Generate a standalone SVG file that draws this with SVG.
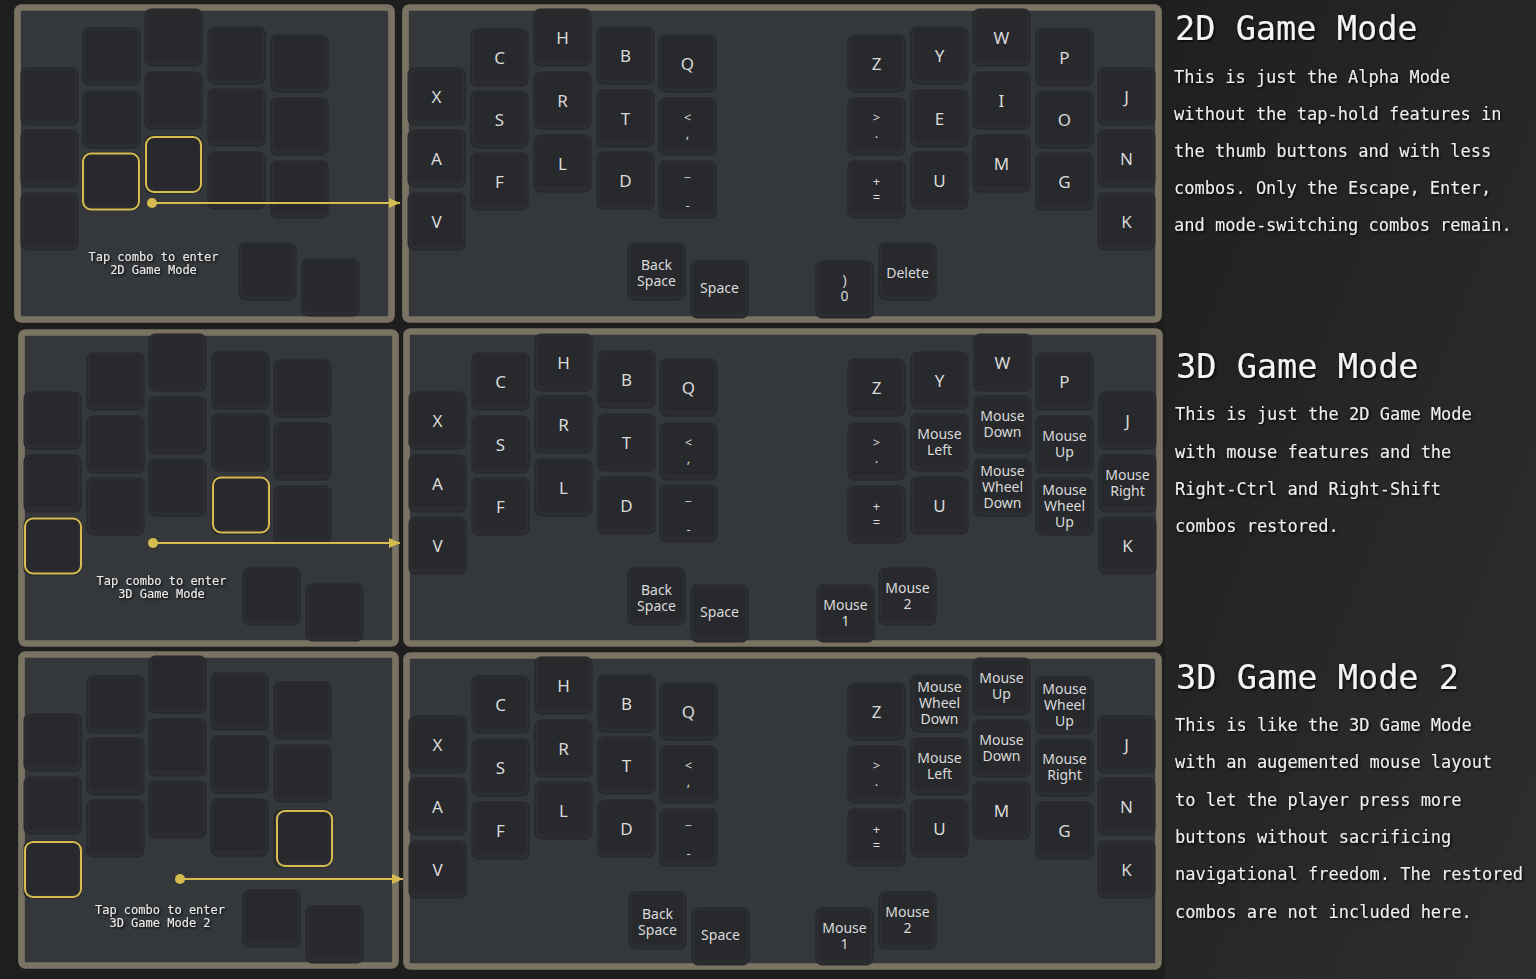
<svg xmlns="http://www.w3.org/2000/svg" xmlns:xlink="http://www.w3.org/1999/xlink" width="1536" height="979" viewBox="0 0 1536 979">
<style>
.panel{fill:#35383b;stroke:#7a7363;stroke-width:6.7}
.ko{fill:#2b2d30;stroke:#242629;stroke-width:1}
.ki{fill:#27292c}
.hl{fill:none;stroke:#d6bc50;stroke-width:2}
.kl{font-family:"Noto Sans","Open Sans",sans-serif;fill:#dadada;text-anchor:middle}
.L{font-size:17px}
.W{font-size:14px}
.S{font-size:13px}
.tap{font-family:"DejaVu Sans Mono","Liberation Mono",monospace;font-size:12px;fill:#ececec;text-anchor:middle;filter:url(#sh)}
.h{font-family:"DejaVu Sans Mono","Liberation Mono",monospace;font-size:33.6px;fill:#f4f4f4;filter:url(#sh)}
.b{font-family:"DejaVu Sans Mono","Liberation Mono",monospace;font-size:17px;fill:#efefef;filter:url(#sh)}
.con{stroke:#d6bc50;stroke-width:2;fill:none}
</style>
<defs>
<linearGradient id="bgR" x1="0" y1="0" x2="1" y2="1">
<stop offset="0" stop-color="#1f1f1f"/>
<stop offset="1" stop-color="#2e2e2e"/>
</linearGradient>
<filter id="sh" x="-10%" y="-30%" width="120%" height="160%">
<feDropShadow dx="1.5" dy="1.5" stdDeviation="1.2" flood-color="#000" flood-opacity="0.85"/>
</filter>
<g id="key"><rect class="ko" x="0" y="0" width="57" height="57" rx="6"/><rect class="ki" x="3" y="2" width="51" height="50" rx="4"/></g>
<marker id="arr" markerUnits="userSpaceOnUse" markerWidth="12" markerHeight="12" refX="11" refY="5" orient="auto">
<path d="M0,0 L11,5 L0,10 z" fill="#d6bc50"/>
</marker>
</defs>

<rect x="0" y="0" width="1536" height="979" fill="#1e1e1e"/>
<rect x="1165" y="0" width="371" height="979" fill="url(#bgR)"/>

<!-- ROW 1 small panel -->
<g id="combo-2d">
<rect class="panel" x="17.5" y="7.5" width="374" height="312" rx="4"/>
<use href="#key" x="21" y="68"/><use href="#key" x="21" y="130"/><use href="#key" x="21" y="193"/>
<use href="#key" x="83" y="28"/><use href="#key" x="83" y="91"/><use href="#key" x="83" y="153"/>
<use href="#key" x="145" y="9"/><use href="#key" x="145" y="72"/><use href="#key" x="145" y="136"/>
<use href="#key" x="208" y="27"/><use href="#key" x="208" y="89"/><use href="#key" x="208" y="152"/>
<use href="#key" x="271" y="35"/><use href="#key" x="271" y="98"/><use href="#key" x="271" y="161"/>
<use href="#key" x="239" y="243"/><use href="#key" x="302" y="259"/>
<rect class="hl" x="83" y="153.5" width="56" height="56" rx="8"/>
<rect class="hl" x="146" y="137" width="55" height="55" rx="8"/>
<text class="tap" x="153.5" y="261">Tap combo to enter</text>
<text class="tap" x="153.5" y="274">2D Game Mode</text>
</g>

<!-- ROW 1 main panel -->
<g id="layout-2d">
<rect class="panel" x="405.5" y="7.5" width="753" height="312" rx="4"/>
<g id="r1-X"><use href="#key" x="408" y="68"/><text class="kl L" x="436.5" y="102.5">X</text></g>
<g id="r1-A"><use href="#key" x="408" y="130"/><text class="kl L" x="436.5" y="164.5">A</text></g>
<g id="r1-V"><use href="#key" x="408" y="193"/><text class="kl L" x="436.5" y="227.5">V</text></g>
<g id="r1-C"><use href="#key" x="471" y="29"/><text class="kl L" x="499.5" y="63.5">C</text></g>
<g id="r1-S"><use href="#key" x="471" y="91"/><text class="kl L" x="499.5" y="125.5">S</text></g>
<g id="r1-F"><use href="#key" x="471" y="153"/><text class="kl L" x="499.5" y="187.5">F</text></g>
<g id="r1-H"><use href="#key" x="534" y="9"/><text class="kl L" x="562.5" y="43.5">H</text></g>
<g id="r1-R"><use href="#key" x="534" y="72"/><text class="kl L" x="562.5" y="106.5">R</text></g>
<g id="r1-L"><use href="#key" x="534" y="135"/><text class="kl L" x="562.5" y="169.5">L</text></g>
<g id="r1-B"><use href="#key" x="597" y="27"/><text class="kl L" x="625.5" y="61.5">B</text></g>
<g id="r1-T"><use href="#key" x="597" y="90"/><text class="kl L" x="625.5" y="124.5">T</text></g>
<g id="r1-D"><use href="#key" x="597" y="152"/><text class="kl L" x="625.5" y="186.5">D</text></g>
<g id="r1-Q"><use href="#key" x="659" y="35"/><text class="kl L" x="687.5" y="69.5">Q</text></g>
<g id="r1-comma"><use href="#key" x="659" y="98"/><text class="kl S" x="687.5" y="122">&lt;</text><text class="kl S" x="687.5" y="137.5">,</text></g>
<g id="r1-minus"><use href="#key" x="659" y="161"/><text class="kl S" x="687.5" y="176">_</text><text class="kl S" x="687.5" y="210">-</text></g>
<g id="r1-bs"><use href="#key" x="628" y="243"/><text class="kl W" x="656.5" y="270">Back</text><text class="kl W" x="656.5" y="286">Space</text></g>
<g id="r1-space"><use href="#key" x="691" y="261"/><text class="kl W" x="719.5" y="293">Space</text></g>
<g id="r1-Z"><use href="#key" x="848" y="35"/><text class="kl L" x="876.5" y="69.5">Z</text></g>
<g id="r1-dot"><use href="#key" x="848" y="98"/><text class="kl S" x="876.5" y="122">&gt;</text><text class="kl S" x="876.5" y="137.5">.</text></g>
<g id="r1-eq"><use href="#key" x="848" y="161"/><text class="kl S" x="876.5" y="185.5">+</text><text class="kl S" x="876.5" y="201.5">=</text></g>
<g id="r1-Y"><use href="#key" x="911" y="27"/><text class="kl L" x="939.5" y="61.5">Y</text></g>
<g id="r1-E"><use href="#key" x="911" y="90"/><text class="kl L" x="939.5" y="124.5">E</text></g>
<g id="r1-U"><use href="#key" x="911" y="152"/><text class="kl L" x="939.5" y="186.5">U</text></g>
<g id="r1-W"><use href="#key" x="973" y="9"/><text class="kl L" x="1001.5" y="43.5">W</text></g>
<g id="r1-I"><use href="#key" x="973" y="72"/><text class="kl L" x="1001.5" y="106.5">I</text></g>
<g id="r1-M"><use href="#key" x="973" y="135"/><text class="kl L" x="1001.5" y="169.5">M</text></g>
<g id="r1-P"><use href="#key" x="1036" y="29"/><text class="kl L" x="1064.5" y="63.5">P</text></g>
<g id="r1-O"><use href="#key" x="1036" y="91"/><text class="kl L" x="1064.5" y="125.5">O</text></g>
<g id="r1-G"><use href="#key" x="1036" y="153"/><text class="kl L" x="1064.5" y="187.5">G</text></g>
<g id="r1-J"><use href="#key" x="1098" y="68"/><text class="kl L" x="1126.5" y="102.5">J</text></g>
<g id="r1-N"><use href="#key" x="1098" y="130"/><text class="kl L" x="1126.5" y="164.5">N</text></g>
<g id="r1-K"><use href="#key" x="1098" y="193"/><text class="kl L" x="1126.5" y="227.5">K</text></g>
<g id="r1-0"><use href="#key" x="816" y="261"/><text class="kl W" x="844.5" y="284.5">)</text><text class="kl W" x="844.5" y="301">0</text></g>
<g id="r1-del"><use href="#key" x="879" y="243"/><text class="kl W" x="907.5" y="277.5">Delete</text></g>
</g>

<!-- ROW 2 small panel -->
<g id="combo-3d">
<rect class="panel" x="21.5" y="332.5" width="374" height="311" rx="4"/>
<use href="#key" x="24" y="392"/><use href="#key" x="24" y="455"/><use href="#key" x="24" y="518"/>
<use href="#key" x="87" y="353"/><use href="#key" x="87" y="416"/><use href="#key" x="87" y="478"/>
<use href="#key" x="149" y="334"/><use href="#key" x="149" y="397"/><use href="#key" x="149" y="459"/>
<use href="#key" x="212" y="352"/><use href="#key" x="212" y="414"/><use href="#key" x="212" y="477"/>
<use href="#key" x="274" y="360"/><use href="#key" x="274" y="423"/><use href="#key" x="274" y="486"/>
<use href="#key" x="243" y="568"/><use href="#key" x="306" y="584"/>
<rect class="hl" x="25" y="518.5" width="56" height="55" rx="8"/>
<rect class="hl" x="213" y="477.5" width="56" height="55" rx="8"/>
<text class="tap" x="161.5" y="585">Tap combo to enter</text>
<text class="tap" x="161.5" y="598">3D Game Mode</text>
</g>

<!-- ROW 2 main panel -->
<g id="layout-3d">
<rect class="panel" x="406.5" y="331.5" width="753" height="312" rx="4"/>
<g id="r2-X"><use href="#key" x="409" y="392"/><text class="kl L" x="437.5" y="426.5">X</text></g>
<g id="r2-A"><use href="#key" x="409" y="455"/><text class="kl L" x="437.5" y="489.5">A</text></g>
<g id="r2-V"><use href="#key" x="409" y="517"/><text class="kl L" x="437.5" y="551.5">V</text></g>
<g id="r2-C"><use href="#key" x="472" y="353"/><text class="kl L" x="500.5" y="387.5">C</text></g>
<g id="r2-S"><use href="#key" x="472" y="416"/><text class="kl L" x="500.5" y="450.5">S</text></g>
<g id="r2-F"><use href="#key" x="472" y="478"/><text class="kl L" x="500.5" y="512.5">F</text></g>
<g id="r2-H"><use href="#key" x="535" y="334"/><text class="kl L" x="563.5" y="368.5">H</text></g>
<g id="r2-R"><use href="#key" x="535" y="396"/><text class="kl L" x="563.5" y="430.5">R</text></g>
<g id="r2-L"><use href="#key" x="535" y="459"/><text class="kl L" x="563.5" y="493.5">L</text></g>
<g id="r2-B"><use href="#key" x="598" y="351"/><text class="kl L" x="626.5" y="385.5">B</text></g>
<g id="r2-T"><use href="#key" x="598" y="414"/><text class="kl L" x="626.5" y="448.5">T</text></g>
<g id="r2-D"><use href="#key" x="598" y="477"/><text class="kl L" x="626.5" y="511.5">D</text></g>
<g id="r2-Q"><use href="#key" x="660" y="359"/><text class="kl L" x="688.5" y="393.5">Q</text></g>
<g id="r2-comma"><use href="#key" x="660" y="423"/><text class="kl S" x="688.5" y="447">&lt;</text><text class="kl S" x="688.5" y="462.5">,</text></g>
<g id="r2-minus"><use href="#key" x="660" y="485"/><text class="kl S" x="688.5" y="500">_</text><text class="kl S" x="688.5" y="534">-</text></g>
<g id="r2-bs"><use href="#key" x="628" y="568"/><text class="kl W" x="656.5" y="595">Back</text><text class="kl W" x="656.5" y="611">Space</text></g>
<g id="r2-space"><use href="#key" x="691" y="585"/><text class="kl W" x="719.5" y="617">Space</text></g>
<g id="r2-Z"><use href="#key" x="848" y="359"/><text class="kl L" x="876.5" y="393.5">Z</text></g>
<g id="r2-dot"><use href="#key" x="848" y="423"/><text class="kl S" x="876.5" y="447">&gt;</text><text class="kl S" x="876.5" y="462.5">.</text></g>
<g id="r2-eq"><use href="#key" x="848" y="486"/><text class="kl S" x="876.5" y="510.5">+</text><text class="kl S" x="876.5" y="526.5">=</text></g>
<g id="r2-Y"><use href="#key" x="911" y="352"/><text class="kl L" x="939.5" y="386.5">Y</text></g>
<g id="r2-ml"><use href="#key" x="911" y="414"/><text class="kl W" x="939.5" y="439">Mouse</text><text class="kl W" x="939.5" y="455">Left</text></g>
<g id="r2-U"><use href="#key" x="911" y="477"/><text class="kl L" x="939.5" y="511.5">U</text></g>
<g id="r2-W"><use href="#key" x="974" y="334"/><text class="kl L" x="1002.5" y="368.5">W</text></g>
<g id="r2-md"><use href="#key" x="974" y="396"/><text class="kl W" x="1002.5" y="421">Mouse</text><text class="kl W" x="1002.5" y="437">Down</text></g>
<g id="r2-mwd"><use href="#key" x="974" y="459"/><text class="kl W" x="1002.5" y="476">Mouse</text><text class="kl W" x="1002.5" y="492">Wheel</text><text class="kl W" x="1002.5" y="508">Down</text></g>
<g id="r2-P"><use href="#key" x="1036" y="353"/><text class="kl L" x="1064.5" y="387.5">P</text></g>
<g id="r2-mu"><use href="#key" x="1036" y="416"/><text class="kl W" x="1064.5" y="441">Mouse</text><text class="kl W" x="1064.5" y="457">Up</text></g>
<g id="r2-mwu"><use href="#key" x="1036" y="478"/><text class="kl W" x="1064.5" y="494.5">Mouse</text><text class="kl W" x="1064.5" y="510.5">Wheel</text><text class="kl W" x="1064.5" y="526.5">Up</text></g>
<g id="r2-J"><use href="#key" x="1099" y="392"/><text class="kl L" x="1127.5" y="426.5">J</text></g>
<g id="r2-mr"><use href="#key" x="1099" y="455"/><text class="kl W" x="1127.5" y="479.5">Mouse</text><text class="kl W" x="1127.5" y="495.5">Right</text></g>
<g id="r2-K"><use href="#key" x="1099" y="517"/><text class="kl L" x="1127.5" y="551.5">K</text></g>
<g id="r2-m1"><use href="#key" x="817" y="585"/><text class="kl W" x="845.5" y="609.5">Mouse</text><text class="kl W" x="845.5" y="625.5">1</text></g>
<g id="r2-m2"><use href="#key" x="879" y="568"/><text class="kl W" x="907.5" y="592.5">Mouse</text><text class="kl W" x="907.5" y="608.5">2</text></g>
</g>

<!-- ROW 3 small panel -->
<g id="combo-3d2">
<rect class="panel" x="21.5" y="654.5" width="374" height="311" rx="4"/>
<use href="#key" x="24" y="714"/><use href="#key" x="24" y="777"/><use href="#key" x="24" y="841"/>
<use href="#key" x="87" y="676"/><use href="#key" x="87" y="738"/><use href="#key" x="87" y="800"/>
<use href="#key" x="149" y="656"/><use href="#key" x="149" y="719"/><use href="#key" x="149" y="781"/>
<use href="#key" x="211" y="673"/><use href="#key" x="211" y="736"/><use href="#key" x="211" y="799"/>
<use href="#key" x="274" y="682"/><use href="#key" x="274" y="745"/><use href="#key" x="274" y="810"/>
<use href="#key" x="243" y="890"/><use href="#key" x="306" y="906"/>
<rect class="hl" x="25" y="842" width="56" height="55" rx="8"/>
<rect class="hl" x="277" y="811" width="55" height="55" rx="8"/>
<text class="tap" x="160" y="914">Tap combo to enter</text>
<text class="tap" x="160" y="927">3D Game Mode 2</text>
</g>

<!-- ROW 3 main panel -->
<g id="layout-3d2">
<rect class="panel" x="406.5" y="655.5" width="752" height="311" rx="4"/>
<g id="r3-X"><use href="#key" x="409" y="716"/><text class="kl L" x="437.5" y="750.5">X</text></g>
<g id="r3-A"><use href="#key" x="409" y="778"/><text class="kl L" x="437.5" y="812.5">A</text></g>
<g id="r3-V"><use href="#key" x="409" y="841"/><text class="kl L" x="437.5" y="875.5">V</text></g>
<g id="r3-C"><use href="#key" x="472" y="676"/><text class="kl L" x="500.5" y="710.5">C</text></g>
<g id="r3-S"><use href="#key" x="472" y="739"/><text class="kl L" x="500.5" y="773.5">S</text></g>
<g id="r3-F"><use href="#key" x="472" y="802"/><text class="kl L" x="500.5" y="836.5">F</text></g>
<g id="r3-H"><use href="#key" x="535" y="657"/><text class="kl L" x="563.5" y="691.5">H</text></g>
<g id="r3-R"><use href="#key" x="535" y="720"/><text class="kl L" x="563.5" y="754.5">R</text></g>
<g id="r3-L"><use href="#key" x="535" y="782"/><text class="kl L" x="563.5" y="816.5">L</text></g>
<g id="r3-B"><use href="#key" x="598" y="675"/><text class="kl L" x="626.5" y="709.5">B</text></g>
<g id="r3-T"><use href="#key" x="598" y="737"/><text class="kl L" x="626.5" y="771.5">T</text></g>
<g id="r3-D"><use href="#key" x="598" y="800"/><text class="kl L" x="626.5" y="834.5">D</text></g>
<g id="r3-Q"><use href="#key" x="660" y="683"/><text class="kl L" x="688.5" y="717.5">Q</text></g>
<g id="r3-comma"><use href="#key" x="660" y="746"/><text class="kl S" x="688.5" y="770">&lt;</text><text class="kl S" x="688.5" y="785.5">,</text></g>
<g id="r3-minus"><use href="#key" x="660" y="809"/><text class="kl S" x="688.5" y="824">_</text><text class="kl S" x="688.5" y="858">-</text></g>
<g id="r3-bs"><use href="#key" x="629" y="892"/><text class="kl W" x="657.5" y="919">Back</text><text class="kl W" x="657.5" y="935">Space</text></g>
<g id="r3-space"><use href="#key" x="692" y="908"/><text class="kl W" x="720.5" y="940">Space</text></g>
<g id="r3-Z"><use href="#key" x="848" y="683"/><text class="kl L" x="876.5" y="717.5">Z</text></g>
<g id="r3-dot"><use href="#key" x="848" y="746"/><text class="kl S" x="876.5" y="770">&gt;</text><text class="kl S" x="876.5" y="785.5">.</text></g>
<g id="r3-eq"><use href="#key" x="848" y="809"/><text class="kl S" x="876.5" y="833.5">+</text><text class="kl S" x="876.5" y="849.5">=</text></g>
<g id="r3-mwd"><use href="#key" x="911" y="675"/><text class="kl W" x="939.5" y="692">Mouse</text><text class="kl W" x="939.5" y="708">Wheel</text><text class="kl W" x="939.5" y="724">Down</text></g>
<g id="r3-ml"><use href="#key" x="911" y="738"/><text class="kl W" x="939.5" y="762.5">Mouse</text><text class="kl W" x="939.5" y="778.5">Left</text></g>
<g id="r3-U"><use href="#key" x="911" y="800"/><text class="kl L" x="939.5" y="834.5">U</text></g>
<g id="r3-mu"><use href="#key" x="973" y="658"/><text class="kl W" x="1001.5" y="682.5">Mouse</text><text class="kl W" x="1001.5" y="698.5">Up</text></g>
<g id="r3-md"><use href="#key" x="973" y="720"/><text class="kl W" x="1001.5" y="744.5">Mouse</text><text class="kl W" x="1001.5" y="760.5">Down</text></g>
<g id="r3-M"><use href="#key" x="973" y="782"/><text class="kl L" x="1001.5" y="816.5">M</text></g>
<g id="r3-mwu"><use href="#key" x="1036" y="677"/><text class="kl W" x="1064.5" y="693.5">Mouse</text><text class="kl W" x="1064.5" y="709.5">Wheel</text><text class="kl W" x="1064.5" y="725.5">Up</text></g>
<g id="r3-mr"><use href="#key" x="1036" y="739"/><text class="kl W" x="1064.5" y="763.5">Mouse</text><text class="kl W" x="1064.5" y="779.5">Right</text></g>
<g id="r3-G"><use href="#key" x="1036" y="802"/><text class="kl L" x="1064.5" y="836.5">G</text></g>
<g id="r3-J"><use href="#key" x="1098" y="716"/><text class="kl L" x="1126.5" y="750.5">J</text></g>
<g id="r3-N"><use href="#key" x="1098" y="778"/><text class="kl L" x="1126.5" y="812.5">N</text></g>
<g id="r3-K"><use href="#key" x="1098" y="841"/><text class="kl L" x="1126.5" y="875.5">K</text></g>
<g id="r3-m1"><use href="#key" x="816" y="908"/><text class="kl W" x="844.5" y="932.5">Mouse</text><text class="kl W" x="844.5" y="948.5">1</text></g>
<g id="r3-m2"><use href="#key" x="879" y="892"/><text class="kl W" x="907.5" y="916.5">Mouse</text><text class="kl W" x="907.5" y="932.5">2</text></g>
</g>

<!-- connectors -->
<g id="connectors">
<circle cx="152" cy="203" r="5" fill="#d6bc50"/>
<line class="con" x1="152" y1="203" x2="400" y2="203" marker-end="url(#arr)"/>
<circle cx="153" cy="543" r="5" fill="#d6bc50"/>
<line class="con" x1="153" y1="543" x2="400" y2="543" marker-end="url(#arr)"/>
<circle cx="180" cy="879" r="5" fill="#d6bc50"/>
<line class="con" x1="180" y1="879" x2="403" y2="879" marker-end="url(#arr)"/>
</g>

<!-- descriptions -->
<g id="desc-2d">
<text class="h" x="1175" y="40">2D Game Mode</text>
<text class="b" x="1174" y="83">This is just the Alpha Mode</text>
<text class="b" x="1174" y="120">without the tap-hold features in</text>
<text class="b" x="1174" y="157">the thumb buttons and with less</text>
<text class="b" x="1174" y="194">combos. Only the Escape, Enter,</text>
<text class="b" x="1174" y="231">and mode-switching combos remain.</text>
</g>
<g id="desc-3d">
<text class="h" x="1176" y="378">3D Game Mode</text>
<text class="b" x="1175" y="420">This is just the 2D Game Mode</text>
<text class="b" x="1175" y="458">with mouse features and the</text>
<text class="b" x="1175" y="495">Right-Ctrl and Right-Shift</text>
<text class="b" x="1175" y="532">combos restored.</text>
</g>
<g id="desc-3d2">
<text class="h" x="1176" y="689">3D Game Mode 2</text>
<text class="b" x="1175" y="731">This is like the 3D Game Mode</text>
<text class="b" x="1175" y="768">with an augemented mouse layout</text>
<text class="b" x="1175" y="806">to let the player press more</text>
<text class="b" x="1175" y="843">buttons without sacrificing</text>
<text class="b" x="1175" y="880">navigational freedom. The restored</text>
<text class="b" x="1175" y="918">combos are not included here.</text>
</g>
</svg>
